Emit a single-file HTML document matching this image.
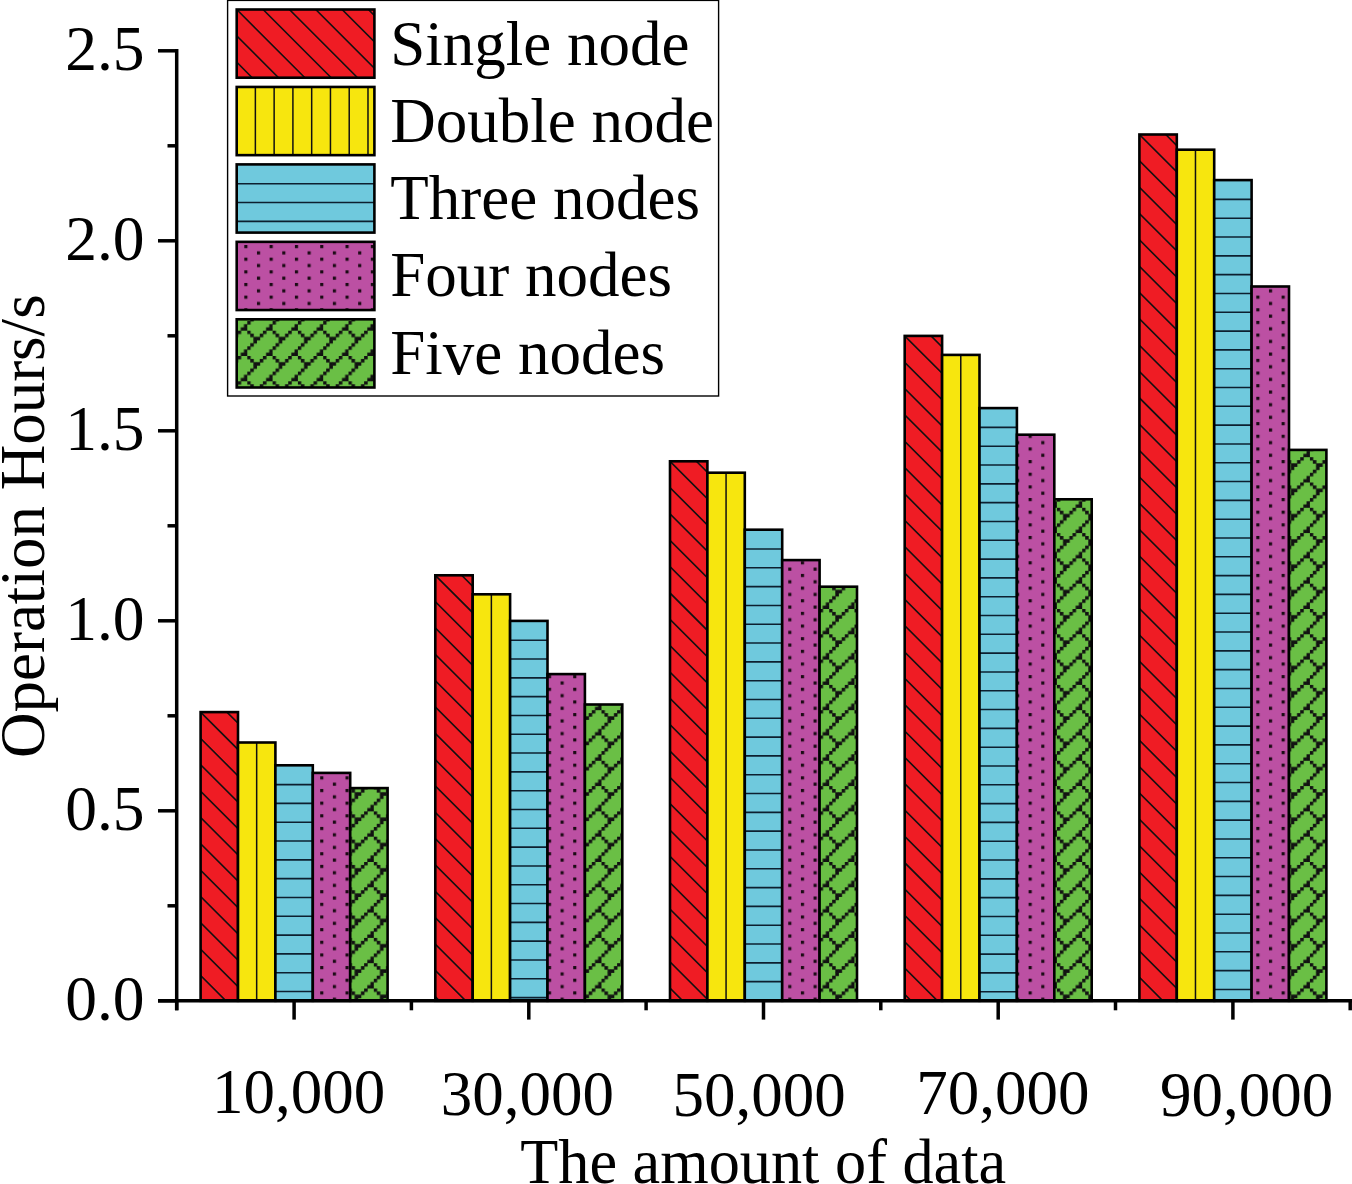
<!DOCTYPE html>
<html><head><meta charset="utf-8"><style>
html,body{margin:0;padding:0;background:#fff;width:1352px;height:1184px;overflow:hidden}
svg{display:block}
</style></head><body>
<svg width="1352" height="1184" viewBox="0 0 1352 1184">
<defs><pattern id="pGrn" patternUnits="userSpaceOnUse" width="25.3" height="25.3" x="19.600" y="1.800"><rect width="25.3" height="25.3" fill="#6abf45"/><g fill="#111"><rect x="15.613" y="-0.200" width="3.562" height="3.562"/><rect x="12.450" y="2.962" width="3.562" height="3.562"/><rect x="9.288" y="6.125" width="3.562" height="3.562"/><rect x="6.125" y="9.288" width="3.562" height="3.562"/><rect x="2.962" y="12.450" width="3.562" height="3.562"/><rect x="-0.200" y="15.613" width="3.562" height="3.562"/><rect x="21.938" y="18.775" width="3.562" height="3.562"/><rect x="18.775" y="21.938" width="3.562" height="3.562"/><rect x="21.938" y="21.938" width="3.562" height="3.562"/><rect x="-0.200" y="-0.200" width="3.562" height="3.562"/><rect x="2.962" y="2.962" width="3.562" height="3.562"/><rect x="6.125" y="6.125" width="3.562" height="3.562"/></g></pattern><pattern id="pMag" patternUnits="userSpaceOnUse" width="25.3" height="12.65" x="16.600" y="4.650"><rect width="25.3" height="12.65" fill="#bc50a3"/><rect x="0" y="0" width="3.163" height="3.163" fill="#1a0a14"/><rect x="12.650" y="6.325" width="3.163" height="3.163" fill="#1a0a14"/></pattern></defs>
<rect width="1352" height="1184" fill="#fff"/>
<rect x="200.60" y="712.10" width="37.40" height="288.70" fill="#ef1c24"/><clipPath id="c70195315"><rect x="200.60" y="712.10" width="37.40" height="288.70"/></clipPath><path clip-path="url(#c70195315)" d="M-115.48,712.10L173.22,1000.80M-89.14,712.10L199.56,1000.80M-62.80,712.10L225.90,1000.80M-36.46,712.10L252.24,1000.80M-10.12,712.10L278.58,1000.80M16.22,712.10L304.92,1000.80M42.56,712.10L331.26,1000.80M68.90,712.10L357.60,1000.80M95.24,712.10L383.94,1000.80M121.58,712.10L410.28,1000.80M147.92,712.10L436.62,1000.80M174.26,712.10L462.96,1000.80M200.60,712.10L489.30,1000.80M226.94,712.10L515.64,1000.80" stroke="#111" stroke-width="1.6" fill="none"/><rect x="200.60" y="712.10" width="37.40" height="288.70" fill="none" stroke="#000" stroke-width="2.6"/>
<rect x="238.00" y="742.50" width="37.40" height="258.30" fill="#f7e60e"/><g stroke="#111" stroke-width="1.5"><line x1="256.67" y1="742.50" x2="256.67" y2="1000.80"/></g><rect x="238.00" y="742.50" width="37.40" height="258.30" fill="none" stroke="#000" stroke-width="2.6"/>
<rect x="275.40" y="765.30" width="37.40" height="235.50" fill="#6fc9dd"/><g stroke="#0d2030" stroke-width="1.6"><line x1="275.40" y1="784.61" x2="312.80" y2="784.61"/><line x1="275.40" y1="803.42" x2="312.80" y2="803.42"/><line x1="275.40" y1="822.23" x2="312.80" y2="822.23"/><line x1="275.40" y1="841.04" x2="312.80" y2="841.04"/><line x1="275.40" y1="859.85" x2="312.80" y2="859.85"/><line x1="275.40" y1="878.66" x2="312.80" y2="878.66"/><line x1="275.40" y1="897.47" x2="312.80" y2="897.47"/><line x1="275.40" y1="916.28" x2="312.80" y2="916.28"/><line x1="275.40" y1="935.09" x2="312.80" y2="935.09"/><line x1="275.40" y1="953.90" x2="312.80" y2="953.90"/><line x1="275.40" y1="972.71" x2="312.80" y2="972.71"/><line x1="275.40" y1="991.52" x2="312.80" y2="991.52"/></g><rect x="275.40" y="765.30" width="37.40" height="235.50" fill="none" stroke="#000" stroke-width="2.6"/>
<rect x="312.80" y="772.90" width="37.40" height="227.90" fill="url(#pMag)"/><rect x="312.80" y="772.90" width="37.40" height="227.90" fill="none" stroke="#000" stroke-width="2.6"/>
<rect x="350.20" y="788.10" width="37.40" height="212.70" fill="url(#pGrn)"/><rect x="350.20" y="788.10" width="37.40" height="212.70" fill="none" stroke="#000" stroke-width="2.6"/>
<rect x="435.30" y="575.30" width="37.40" height="425.50" fill="#ef1c24"/><clipPath id="c21060103"><rect x="435.30" y="575.30" width="37.40" height="425.50"/></clipPath><path clip-path="url(#c21060103)" d="M-38.82,575.30L386.68,1000.80M-12.48,575.30L413.02,1000.80M13.86,575.30L439.36,1000.80M40.20,575.30L465.70,1000.80M66.54,575.30L492.04,1000.80M92.88,575.30L518.38,1000.80M119.22,575.30L544.72,1000.80M145.56,575.30L571.06,1000.80M171.90,575.30L597.40,1000.80M198.24,575.30L623.74,1000.80M224.58,575.30L650.08,1000.80M250.92,575.30L676.42,1000.80M277.26,575.30L702.76,1000.80M303.60,575.30L729.10,1000.80M329.94,575.30L755.44,1000.80M356.28,575.30L781.78,1000.80M382.62,575.30L808.12,1000.80M408.96,575.30L834.46,1000.80M435.30,575.30L860.80,1000.80M461.64,575.30L887.14,1000.80" stroke="#111" stroke-width="1.6" fill="none"/><rect x="435.30" y="575.30" width="37.40" height="425.50" fill="none" stroke="#000" stroke-width="2.6"/>
<rect x="472.70" y="594.30" width="37.40" height="406.50" fill="#f7e60e"/><g stroke="#111" stroke-width="1.5"><line x1="491.37" y1="594.30" x2="491.37" y2="1000.80"/></g><rect x="472.70" y="594.30" width="37.40" height="406.50" fill="none" stroke="#000" stroke-width="2.6"/>
<rect x="510.10" y="620.90" width="37.40" height="379.90" fill="#6fc9dd"/><g stroke="#0d2030" stroke-width="1.6"><line x1="510.10" y1="640.21" x2="547.50" y2="640.21"/><line x1="510.10" y1="659.02" x2="547.50" y2="659.02"/><line x1="510.10" y1="677.83" x2="547.50" y2="677.83"/><line x1="510.10" y1="696.64" x2="547.50" y2="696.64"/><line x1="510.10" y1="715.45" x2="547.50" y2="715.45"/><line x1="510.10" y1="734.26" x2="547.50" y2="734.26"/><line x1="510.10" y1="753.07" x2="547.50" y2="753.07"/><line x1="510.10" y1="771.88" x2="547.50" y2="771.88"/><line x1="510.10" y1="790.69" x2="547.50" y2="790.69"/><line x1="510.10" y1="809.50" x2="547.50" y2="809.50"/><line x1="510.10" y1="828.31" x2="547.50" y2="828.31"/><line x1="510.10" y1="847.12" x2="547.50" y2="847.12"/><line x1="510.10" y1="865.93" x2="547.50" y2="865.93"/><line x1="510.10" y1="884.74" x2="547.50" y2="884.74"/><line x1="510.10" y1="903.55" x2="547.50" y2="903.55"/><line x1="510.10" y1="922.36" x2="547.50" y2="922.36"/><line x1="510.10" y1="941.17" x2="547.50" y2="941.17"/><line x1="510.10" y1="959.98" x2="547.50" y2="959.98"/><line x1="510.10" y1="978.79" x2="547.50" y2="978.79"/><line x1="510.10" y1="997.60" x2="547.50" y2="997.60"/></g><rect x="510.10" y="620.90" width="37.40" height="379.90" fill="none" stroke="#000" stroke-width="2.6"/>
<rect x="547.50" y="674.10" width="37.40" height="326.70" fill="url(#pMag)"/><rect x="547.50" y="674.10" width="37.40" height="326.70" fill="none" stroke="#000" stroke-width="2.6"/>
<rect x="584.90" y="704.50" width="37.40" height="296.30" fill="url(#pGrn)"/><rect x="584.90" y="704.50" width="37.40" height="296.30" fill="none" stroke="#000" stroke-width="2.6"/>
<rect x="670.00" y="461.30" width="37.40" height="539.50" fill="#ef1c24"/><clipPath id="c80906290"><rect x="670.00" y="461.30" width="37.40" height="539.50"/></clipPath><path clip-path="url(#c80906290)" d="M90.52,461.30L630.02,1000.80M116.86,461.30L656.36,1000.80M143.20,461.30L682.70,1000.80M169.54,461.30L709.04,1000.80M195.88,461.30L735.38,1000.80M222.22,461.30L761.72,1000.80M248.56,461.30L788.06,1000.80M274.90,461.30L814.40,1000.80M301.24,461.30L840.74,1000.80M327.58,461.30L867.08,1000.80M353.92,461.30L893.42,1000.80M380.26,461.30L919.76,1000.80M406.60,461.30L946.10,1000.80M432.94,461.30L972.44,1000.80M459.28,461.30L998.78,1000.80M485.62,461.30L1025.12,1000.80M511.96,461.30L1051.46,1000.80M538.30,461.30L1077.80,1000.80M564.64,461.30L1104.14,1000.80M590.98,461.30L1130.48,1000.80M617.32,461.30L1156.82,1000.80M643.66,461.30L1183.16,1000.80M670.00,461.30L1209.50,1000.80M696.34,461.30L1235.84,1000.80" stroke="#111" stroke-width="1.6" fill="none"/><rect x="670.00" y="461.30" width="37.40" height="539.50" fill="none" stroke="#000" stroke-width="2.6"/>
<rect x="707.40" y="472.70" width="37.40" height="528.10" fill="#f7e60e"/><g stroke="#111" stroke-width="1.5"><line x1="726.07" y1="472.70" x2="726.07" y2="1000.80"/></g><rect x="707.40" y="472.70" width="37.40" height="528.10" fill="none" stroke="#000" stroke-width="2.6"/>
<rect x="744.80" y="529.70" width="37.40" height="471.10" fill="#6fc9dd"/><g stroke="#0d2030" stroke-width="1.6"><line x1="744.80" y1="549.01" x2="782.20" y2="549.01"/><line x1="744.80" y1="567.82" x2="782.20" y2="567.82"/><line x1="744.80" y1="586.63" x2="782.20" y2="586.63"/><line x1="744.80" y1="605.44" x2="782.20" y2="605.44"/><line x1="744.80" y1="624.25" x2="782.20" y2="624.25"/><line x1="744.80" y1="643.06" x2="782.20" y2="643.06"/><line x1="744.80" y1="661.87" x2="782.20" y2="661.87"/><line x1="744.80" y1="680.68" x2="782.20" y2="680.68"/><line x1="744.80" y1="699.49" x2="782.20" y2="699.49"/><line x1="744.80" y1="718.30" x2="782.20" y2="718.30"/><line x1="744.80" y1="737.11" x2="782.20" y2="737.11"/><line x1="744.80" y1="755.92" x2="782.20" y2="755.92"/><line x1="744.80" y1="774.73" x2="782.20" y2="774.73"/><line x1="744.80" y1="793.54" x2="782.20" y2="793.54"/><line x1="744.80" y1="812.35" x2="782.20" y2="812.35"/><line x1="744.80" y1="831.16" x2="782.20" y2="831.16"/><line x1="744.80" y1="849.97" x2="782.20" y2="849.97"/><line x1="744.80" y1="868.78" x2="782.20" y2="868.78"/><line x1="744.80" y1="887.59" x2="782.20" y2="887.59"/><line x1="744.80" y1="906.40" x2="782.20" y2="906.40"/><line x1="744.80" y1="925.21" x2="782.20" y2="925.21"/><line x1="744.80" y1="944.02" x2="782.20" y2="944.02"/><line x1="744.80" y1="962.83" x2="782.20" y2="962.83"/><line x1="744.80" y1="981.64" x2="782.20" y2="981.64"/></g><rect x="744.80" y="529.70" width="37.40" height="471.10" fill="none" stroke="#000" stroke-width="2.6"/>
<rect x="782.20" y="560.10" width="37.40" height="440.70" fill="url(#pMag)"/><rect x="782.20" y="560.10" width="37.40" height="440.70" fill="none" stroke="#000" stroke-width="2.6"/>
<rect x="819.60" y="586.70" width="37.40" height="414.10" fill="url(#pGrn)"/><rect x="819.60" y="586.70" width="37.40" height="414.10" fill="none" stroke="#000" stroke-width="2.6"/>
<rect x="904.70" y="335.90" width="37.40" height="664.90" fill="#ef1c24"/><clipPath id="c41597411"><rect x="904.70" y="335.90" width="37.40" height="664.90"/></clipPath><path clip-path="url(#c41597411)" d="M193.52,335.90L858.42,1000.80M219.86,335.90L884.76,1000.80M246.20,335.90L911.10,1000.80M272.54,335.90L937.44,1000.80M298.88,335.90L963.78,1000.80M325.22,335.90L990.12,1000.80M351.56,335.90L1016.46,1000.80M377.90,335.90L1042.80,1000.80M404.24,335.90L1069.14,1000.80M430.58,335.90L1095.48,1000.80M456.92,335.90L1121.82,1000.80M483.26,335.90L1148.16,1000.80M509.60,335.90L1174.50,1000.80M535.94,335.90L1200.84,1000.80M562.28,335.90L1227.18,1000.80M588.62,335.90L1253.52,1000.80M614.96,335.90L1279.86,1000.80M641.30,335.90L1306.20,1000.80M667.64,335.90L1332.54,1000.80M693.98,335.90L1358.88,1000.80M720.32,335.90L1385.22,1000.80M746.66,335.90L1411.56,1000.80M773.00,335.90L1437.90,1000.80M799.34,335.90L1464.24,1000.80M825.68,335.90L1490.58,1000.80M852.02,335.90L1516.92,1000.80M878.36,335.90L1543.26,1000.80M904.70,335.90L1569.60,1000.80M931.04,335.90L1595.94,1000.80" stroke="#111" stroke-width="1.6" fill="none"/><rect x="904.70" y="335.90" width="37.40" height="664.90" fill="none" stroke="#000" stroke-width="2.6"/>
<rect x="942.10" y="354.90" width="37.40" height="645.90" fill="#f7e60e"/><g stroke="#111" stroke-width="1.5"><line x1="960.77" y1="354.90" x2="960.77" y2="1000.80"/></g><rect x="942.10" y="354.90" width="37.40" height="645.90" fill="none" stroke="#000" stroke-width="2.6"/>
<rect x="979.50" y="408.10" width="37.40" height="592.70" fill="#6fc9dd"/><g stroke="#0d2030" stroke-width="1.6"><line x1="979.50" y1="427.41" x2="1016.90" y2="427.41"/><line x1="979.50" y1="446.22" x2="1016.90" y2="446.22"/><line x1="979.50" y1="465.03" x2="1016.90" y2="465.03"/><line x1="979.50" y1="483.84" x2="1016.90" y2="483.84"/><line x1="979.50" y1="502.65" x2="1016.90" y2="502.65"/><line x1="979.50" y1="521.46" x2="1016.90" y2="521.46"/><line x1="979.50" y1="540.27" x2="1016.90" y2="540.27"/><line x1="979.50" y1="559.08" x2="1016.90" y2="559.08"/><line x1="979.50" y1="577.89" x2="1016.90" y2="577.89"/><line x1="979.50" y1="596.70" x2="1016.90" y2="596.70"/><line x1="979.50" y1="615.51" x2="1016.90" y2="615.51"/><line x1="979.50" y1="634.32" x2="1016.90" y2="634.32"/><line x1="979.50" y1="653.13" x2="1016.90" y2="653.13"/><line x1="979.50" y1="671.94" x2="1016.90" y2="671.94"/><line x1="979.50" y1="690.75" x2="1016.90" y2="690.75"/><line x1="979.50" y1="709.56" x2="1016.90" y2="709.56"/><line x1="979.50" y1="728.37" x2="1016.90" y2="728.37"/><line x1="979.50" y1="747.18" x2="1016.90" y2="747.18"/><line x1="979.50" y1="765.99" x2="1016.90" y2="765.99"/><line x1="979.50" y1="784.80" x2="1016.90" y2="784.80"/><line x1="979.50" y1="803.61" x2="1016.90" y2="803.61"/><line x1="979.50" y1="822.42" x2="1016.90" y2="822.42"/><line x1="979.50" y1="841.23" x2="1016.90" y2="841.23"/><line x1="979.50" y1="860.04" x2="1016.90" y2="860.04"/><line x1="979.50" y1="878.85" x2="1016.90" y2="878.85"/><line x1="979.50" y1="897.66" x2="1016.90" y2="897.66"/><line x1="979.50" y1="916.47" x2="1016.90" y2="916.47"/><line x1="979.50" y1="935.28" x2="1016.90" y2="935.28"/><line x1="979.50" y1="954.09" x2="1016.90" y2="954.09"/><line x1="979.50" y1="972.90" x2="1016.90" y2="972.90"/><line x1="979.50" y1="991.71" x2="1016.90" y2="991.71"/></g><rect x="979.50" y="408.10" width="37.40" height="592.70" fill="none" stroke="#000" stroke-width="2.6"/>
<rect x="1016.90" y="434.70" width="37.40" height="566.10" fill="url(#pMag)"/><rect x="1016.90" y="434.70" width="37.40" height="566.10" fill="none" stroke="#000" stroke-width="2.6"/>
<rect x="1054.30" y="499.30" width="37.40" height="501.50" fill="url(#pGrn)"/><rect x="1054.30" y="499.30" width="37.40" height="501.50" fill="none" stroke="#000" stroke-width="2.6"/>
<rect x="1139.40" y="134.50" width="37.40" height="866.30" fill="#ef1c24"/><clipPath id="c52434810"><rect x="1139.40" y="134.50" width="37.40" height="866.30"/></clipPath><path clip-path="url(#c52434810)" d="M243.84,134.50L1110.14,1000.80M270.18,134.50L1136.48,1000.80M296.52,134.50L1162.82,1000.80M322.86,134.50L1189.16,1000.80M349.20,134.50L1215.50,1000.80M375.54,134.50L1241.84,1000.80M401.88,134.50L1268.18,1000.80M428.22,134.50L1294.52,1000.80M454.56,134.50L1320.86,1000.80M480.90,134.50L1347.20,1000.80M507.24,134.50L1373.54,1000.80M533.58,134.50L1399.88,1000.80M559.92,134.50L1426.22,1000.80M586.26,134.50L1452.56,1000.80M612.60,134.50L1478.90,1000.80M638.94,134.50L1505.24,1000.80M665.28,134.50L1531.58,1000.80M691.62,134.50L1557.92,1000.80M717.96,134.50L1584.26,1000.80M744.30,134.50L1610.60,1000.80M770.64,134.50L1636.94,1000.80M796.98,134.50L1663.28,1000.80M823.32,134.50L1689.62,1000.80M849.66,134.50L1715.96,1000.80M876.00,134.50L1742.30,1000.80M902.34,134.50L1768.64,1000.80M928.68,134.50L1794.98,1000.80M955.02,134.50L1821.32,1000.80M981.36,134.50L1847.66,1000.80M1007.70,134.50L1874.00,1000.80M1034.04,134.50L1900.34,1000.80M1060.38,134.50L1926.68,1000.80M1086.72,134.50L1953.02,1000.80M1113.06,134.50L1979.36,1000.80M1139.40,134.50L2005.70,1000.80M1165.74,134.50L2032.04,1000.80" stroke="#111" stroke-width="1.6" fill="none"/><rect x="1139.40" y="134.50" width="37.40" height="866.30" fill="none" stroke="#000" stroke-width="2.6"/>
<rect x="1176.80" y="149.70" width="37.40" height="851.10" fill="#f7e60e"/><g stroke="#111" stroke-width="1.5"><line x1="1195.47" y1="149.70" x2="1195.47" y2="1000.80"/></g><rect x="1176.80" y="149.70" width="37.40" height="851.10" fill="none" stroke="#000" stroke-width="2.6"/>
<rect x="1214.20" y="180.10" width="37.40" height="820.70" fill="#6fc9dd"/><g stroke="#0d2030" stroke-width="1.6"><line x1="1214.20" y1="199.41" x2="1251.60" y2="199.41"/><line x1="1214.20" y1="218.22" x2="1251.60" y2="218.22"/><line x1="1214.20" y1="237.03" x2="1251.60" y2="237.03"/><line x1="1214.20" y1="255.84" x2="1251.60" y2="255.84"/><line x1="1214.20" y1="274.65" x2="1251.60" y2="274.65"/><line x1="1214.20" y1="293.46" x2="1251.60" y2="293.46"/><line x1="1214.20" y1="312.27" x2="1251.60" y2="312.27"/><line x1="1214.20" y1="331.08" x2="1251.60" y2="331.08"/><line x1="1214.20" y1="349.89" x2="1251.60" y2="349.89"/><line x1="1214.20" y1="368.70" x2="1251.60" y2="368.70"/><line x1="1214.20" y1="387.51" x2="1251.60" y2="387.51"/><line x1="1214.20" y1="406.32" x2="1251.60" y2="406.32"/><line x1="1214.20" y1="425.13" x2="1251.60" y2="425.13"/><line x1="1214.20" y1="443.94" x2="1251.60" y2="443.94"/><line x1="1214.20" y1="462.75" x2="1251.60" y2="462.75"/><line x1="1214.20" y1="481.56" x2="1251.60" y2="481.56"/><line x1="1214.20" y1="500.37" x2="1251.60" y2="500.37"/><line x1="1214.20" y1="519.18" x2="1251.60" y2="519.18"/><line x1="1214.20" y1="537.99" x2="1251.60" y2="537.99"/><line x1="1214.20" y1="556.80" x2="1251.60" y2="556.80"/><line x1="1214.20" y1="575.61" x2="1251.60" y2="575.61"/><line x1="1214.20" y1="594.42" x2="1251.60" y2="594.42"/><line x1="1214.20" y1="613.23" x2="1251.60" y2="613.23"/><line x1="1214.20" y1="632.04" x2="1251.60" y2="632.04"/><line x1="1214.20" y1="650.85" x2="1251.60" y2="650.85"/><line x1="1214.20" y1="669.66" x2="1251.60" y2="669.66"/><line x1="1214.20" y1="688.47" x2="1251.60" y2="688.47"/><line x1="1214.20" y1="707.28" x2="1251.60" y2="707.28"/><line x1="1214.20" y1="726.09" x2="1251.60" y2="726.09"/><line x1="1214.20" y1="744.90" x2="1251.60" y2="744.90"/><line x1="1214.20" y1="763.71" x2="1251.60" y2="763.71"/><line x1="1214.20" y1="782.52" x2="1251.60" y2="782.52"/><line x1="1214.20" y1="801.33" x2="1251.60" y2="801.33"/><line x1="1214.20" y1="820.14" x2="1251.60" y2="820.14"/><line x1="1214.20" y1="838.95" x2="1251.60" y2="838.95"/><line x1="1214.20" y1="857.76" x2="1251.60" y2="857.76"/><line x1="1214.20" y1="876.57" x2="1251.60" y2="876.57"/><line x1="1214.20" y1="895.38" x2="1251.60" y2="895.38"/><line x1="1214.20" y1="914.19" x2="1251.60" y2="914.19"/><line x1="1214.20" y1="933.00" x2="1251.60" y2="933.00"/><line x1="1214.20" y1="951.81" x2="1251.60" y2="951.81"/><line x1="1214.20" y1="970.62" x2="1251.60" y2="970.62"/><line x1="1214.20" y1="989.43" x2="1251.60" y2="989.43"/></g><rect x="1214.20" y="180.10" width="37.40" height="820.70" fill="none" stroke="#000" stroke-width="2.6"/>
<rect x="1251.60" y="286.50" width="37.40" height="714.30" fill="url(#pMag)"/><rect x="1251.60" y="286.50" width="37.40" height="714.30" fill="none" stroke="#000" stroke-width="2.6"/>
<rect x="1289.00" y="449.90" width="37.40" height="550.90" fill="url(#pGrn)"/><rect x="1289.00" y="449.90" width="37.40" height="550.90" fill="none" stroke="#000" stroke-width="2.6"/>
<g stroke="#000" stroke-width="3.5" fill="none">
<line x1="176.7" y1="49.05" x2="176.7" y2="1010.3"/>
<line x1="158" y1="1000.8" x2="1352" y2="1000.8"/>
<line x1="158" y1="1000.80" x2="176.7" y2="1000.80"/>
<line x1="158" y1="810.80" x2="176.7" y2="810.80"/>
<line x1="158" y1="620.80" x2="176.7" y2="620.80"/>
<line x1="158" y1="430.80" x2="176.7" y2="430.80"/>
<line x1="158" y1="240.80" x2="176.7" y2="240.80"/>
<line x1="158" y1="50.80" x2="176.7" y2="50.80"/>
<line x1="167.5" y1="905.80" x2="176.7" y2="905.80"/>
<line x1="167.5" y1="715.80" x2="176.7" y2="715.80"/>
<line x1="167.5" y1="525.80" x2="176.7" y2="525.80"/>
<line x1="167.5" y1="335.80" x2="176.7" y2="335.80"/>
<line x1="167.5" y1="145.80" x2="176.7" y2="145.80"/>
<line x1="294.10" y1="1000.8" x2="294.10" y2="1019.6"/>
<line x1="528.80" y1="1000.8" x2="528.80" y2="1019.6"/>
<line x1="763.50" y1="1000.8" x2="763.50" y2="1019.6"/>
<line x1="998.20" y1="1000.8" x2="998.20" y2="1019.6"/>
<line x1="1232.90" y1="1000.8" x2="1232.90" y2="1019.6"/>
<line x1="176.70" y1="1000.8" x2="176.70" y2="1010.3"/>
<line x1="411.40" y1="1000.8" x2="411.40" y2="1010.3"/>
<line x1="646.10" y1="1000.8" x2="646.10" y2="1010.3"/>
<line x1="880.80" y1="1000.8" x2="880.80" y2="1010.3"/>
<line x1="1115.50" y1="1000.8" x2="1115.50" y2="1010.3"/>
<line x1="1350.20" y1="1000.8" x2="1350.20" y2="1010.3"/>
</g>
<text x="144.6" y="1019.8" font-family="Liberation Serif, serif" font-size="63.5" text-anchor="end">0.0</text>
<text x="144.6" y="829.8" font-family="Liberation Serif, serif" font-size="63.5" text-anchor="end">0.5</text>
<text x="144.6" y="639.8" font-family="Liberation Serif, serif" font-size="63.5" text-anchor="end">1.0</text>
<text x="144.6" y="449.8" font-family="Liberation Serif, serif" font-size="63.5" text-anchor="end">1.5</text>
<text x="144.6" y="259.8" font-family="Liberation Serif, serif" font-size="63.5" text-anchor="end">2.0</text>
<text x="144.6" y="69.8" font-family="Liberation Serif, serif" font-size="63.5" text-anchor="end">2.5</text>
<text x="212.0" y="1112.7" font-family="Liberation Serif, serif" font-size="63">10,000</text>
<text x="440.7" y="1114.6" font-family="Liberation Serif, serif" font-size="63">30,000</text>
<text x="672.5" y="1116.4" font-family="Liberation Serif, serif" font-size="63">50,000</text>
<text x="916.2" y="1114.1" font-family="Liberation Serif, serif" font-size="63">70,000</text>
<text x="1159.9" y="1116.4" font-family="Liberation Serif, serif" font-size="63">90,000</text>
<text x="520.2" y="1182.5" font-family="Liberation Serif, serif" font-size="63" textLength="486" lengthAdjust="spacingAndGlyphs">The amount of data</text>
<text transform="translate(44,526.2) rotate(-90)" x="0" y="0" font-family="Liberation Serif, serif" font-size="63" text-anchor="middle">Operation Hours/s</text>
<rect x="227.6" y="0.4" width="491" height="395.6" fill="#fff" stroke="#000" stroke-width="1.4"/>
<rect x="236.70" y="9.50" width="137.70" height="68.20" fill="#ef1c24"/><clipPath id="c14723647"><rect x="236.70" y="9.50" width="137.70" height="68.20"/></clipPath><path clip-path="url(#c14723647)" d="M131.34,9.50L199.54,77.70M157.68,9.50L225.88,77.70M184.02,9.50L252.22,77.70M210.36,9.50L278.56,77.70M236.70,9.50L304.90,77.70M263.04,9.50L331.24,77.70M289.38,9.50L357.58,77.70M315.72,9.50L383.92,77.70M342.06,9.50L410.26,77.70M368.40,9.50L436.60,77.70" stroke="#111" stroke-width="1.6" fill="none"/><rect x="236.70" y="9.50" width="137.70" height="68.20" fill="none" stroke="#000" stroke-width="2.6"/>
<text x="390.3" y="64.7" font-family="Liberation Serif, serif" font-size="63">Single node</text>
<rect x="236.70" y="86.95" width="137.70" height="68.20" fill="#f7e60e"/><g stroke="#111" stroke-width="1.5"><line x1="255.37" y1="86.95" x2="255.37" y2="155.15"/><line x1="274.14" y1="86.95" x2="274.14" y2="155.15"/><line x1="292.91" y1="86.95" x2="292.91" y2="155.15"/><line x1="311.68" y1="86.95" x2="311.68" y2="155.15"/><line x1="330.45" y1="86.95" x2="330.45" y2="155.15"/><line x1="349.22" y1="86.95" x2="349.22" y2="155.15"/><line x1="367.99" y1="86.95" x2="367.99" y2="155.15"/></g><rect x="236.70" y="86.95" width="137.70" height="68.20" fill="none" stroke="#000" stroke-width="2.6"/>
<text x="390.3" y="141.9" font-family="Liberation Serif, serif" font-size="63">Double node</text>
<rect x="236.70" y="164.40" width="137.70" height="68.20" fill="#6fc9dd"/><g stroke="#0d2030" stroke-width="1.6"><line x1="236.70" y1="183.71" x2="374.40" y2="183.71"/><line x1="236.70" y1="202.52" x2="374.40" y2="202.52"/><line x1="236.70" y1="221.33" x2="374.40" y2="221.33"/></g><rect x="236.70" y="164.40" width="137.70" height="68.20" fill="none" stroke="#000" stroke-width="2.6"/>
<text x="390.3" y="219.1" font-family="Liberation Serif, serif" font-size="63">Three nodes</text>
<rect x="236.70" y="241.85" width="137.70" height="68.20" fill="url(#pMag)"/><rect x="236.70" y="241.85" width="137.70" height="68.20" fill="none" stroke="#000" stroke-width="2.6"/>
<text x="390.3" y="296.3" font-family="Liberation Serif, serif" font-size="63">Four nodes</text>
<rect x="236.70" y="319.30" width="137.70" height="68.20" fill="url(#pGrn)"/><rect x="236.70" y="319.30" width="137.70" height="68.20" fill="none" stroke="#000" stroke-width="2.6"/>
<text x="390.3" y="373.5" font-family="Liberation Serif, serif" font-size="63">Five nodes</text>
</svg>
</body></html>
